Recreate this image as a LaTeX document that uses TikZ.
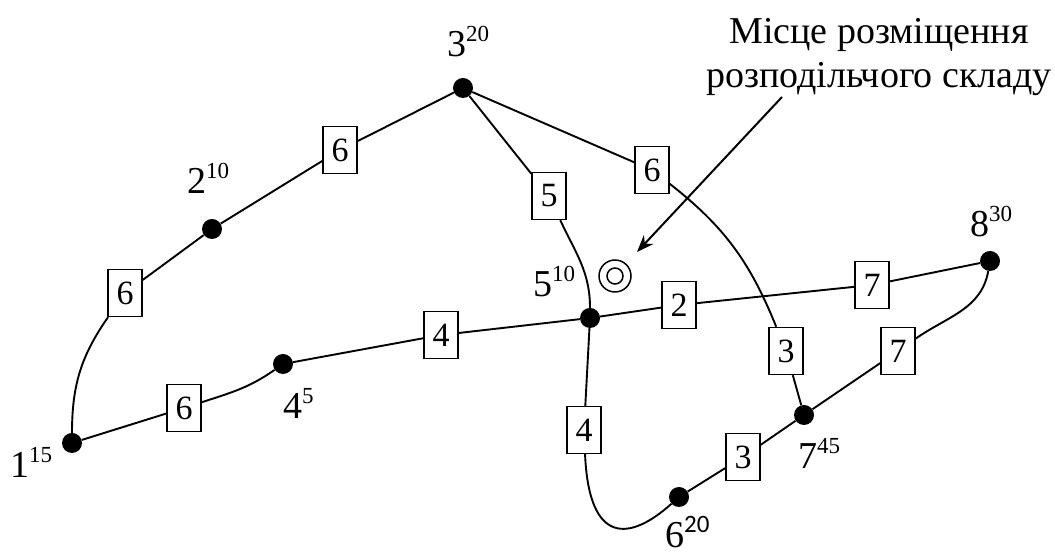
\documentclass[tikz,border=0pt]{standalone}
\usepackage{fontspec}
\setmainfont{Liberation Serif}
\newfontfamily\supsans{Carlito}
\usetikzlibrary{arrows.meta}

% point name with its demand written as a superscript
\newcommand\vlabel[2]{#1\raisebox{15pt}{\fontsize{23}{23}\selectfont #2}}

\begin{document}
\begin{tikzpicture}[x=1pt,y=1pt,
  vertex/.style={circle,fill=black,minimum size=20pt,inner sep=0pt},
  weight/.style={draw,line width=1.4pt,fill=white,minimum width=34pt,
    minimum height=47pt,inner sep=0pt,font=\fontsize{34}{34}\selectfont},
  vname/.style={anchor=base west,inner sep=0pt,font=\fontsize{38}{38}\selectfont},
  road/.style={line width=1.9pt}]
\useasboundingbox (0,0) rectangle (1055,556);

% points of the network
\node[vertex] (n1) at (72,113) {};
\node[vertex] (n2) at (212,327) {};
\node[vertex] (n3) at (463,468) {};
\node[vertex] (n4) at (283,192) {};
\node[vertex] (n5) at (590,238) {};
\node[vertex] (n6) at (679,59) {};
\node[vertex] (n7) at (804,141) {};
\node[vertex] (n8) at (990,295) {};

% distances on the links
\node[weight] (b12) at (125,263) {6};
\node[weight] (b23) at (340,406) {6};
\node[weight] (b35) at (549,360) {5};
\node[weight] (b37) at (652,386) {6};
\node[weight] (b37b) at (786,205) {3};
\node[weight] (b14) at (184,148) {6};
\node[weight] (b45) at (441,221) {4};
\node[weight] (b58) at (679,251) {2};
\node[weight] (b58b) at (872,271) {7};
\node[weight] (b56) at (584,126) {4};
\node[weight] (b67) at (743,99) {3};
\node[weight] (b78) at (898,205) {7};

% links
\draw[road] (n1) to[out=90,in=235] (b12) -- (n2) -- (b23) -- (n3);
\draw[road] (n3) -- (b35) to[out=-65,in=90] (n5);
\draw[road] (n3) -- (b37) to[out=-38,in=112] (b37b) -- (n7);
\draw[road] (n1) -- (b14) to[out=18,in=215] (n4);
\draw[road] (n4) -- (b45) -- (n5) -- (b58) -- (b58b) -- (n8);
\draw[road] (n5) -- (b56) .. controls (589,10) and (630,15) .. (n6);
\draw[road] (n6) -- (b67) -- (n7) -- (b78) to[out=35,in=-100] (n8);

% point labels
\node[vname] (l1) at (10,78) {\vlabel{1}{15}};
\node[vname] (l2) at (187,362) {\vlabel{2}{10}};
\node[vname] (l3) at (447,499) {\vlabel{3}{20}};
\node[vname] (l4) at (283,137) {\vlabel{4}{5}};
\node[vname] (l5) at (533,259) {\vlabel{5}{10}};
\node[vname] (l6) at (665,8) {6\raisebox{15pt}{\supsans\fontsize{25}{25}\selectfont 20}};
\node[vname] (l7) at (798,87) {\vlabel{7}{45}};
\node[vname] (l8) at (970,319) {\vlabel{8}{30}};

% warehouse site
\node[circle,draw,line width=1.5pt,minimum size=32pt,inner sep=0pt] (depot) at (615,280) {};
\node[circle,draw,line width=1.5pt,minimum size=16pt,inner sep=0pt] (depotcore) at (depot) {};

% caption with pointer (base anchor sits on the last line)
\node[align=center,anchor=base,inner sep=0pt,font=\fontsize{38}{44}\selectfont] (caption)
  at (879,468) {Місце розміщення\\розподільчого складу};
\coordinate (ptrtail) at (782,459);
\coordinate (ptrtip) at (637,304);
\draw[line width=2pt,-{Stealth[length=17pt,width=13pt]}] (ptrtail) -- (ptrtip);
\end{tikzpicture}
\end{document}
